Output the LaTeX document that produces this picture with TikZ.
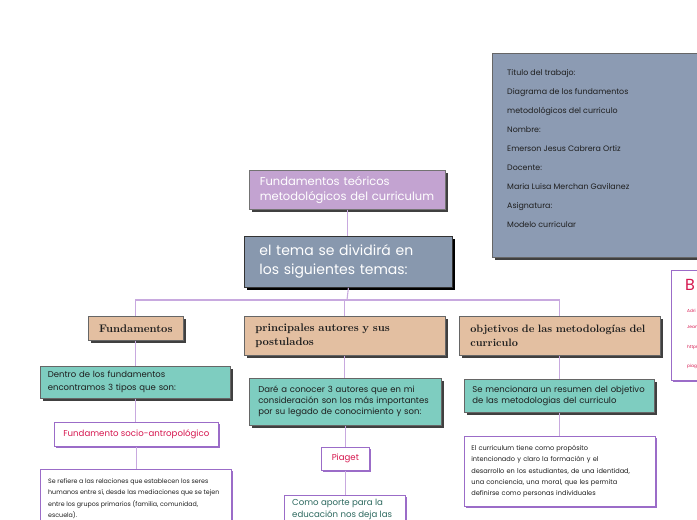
\documentclass[tikz,border=0pt]{standalone}
\usepackage{fontspec}
\setmainfont{Poppins}
\newfontfamily\serifbold{Latin Modern Roman}
\usetikzlibrary{shadows}
\definecolor{slate}{HTML}{8C9BB3}
\definecolor{slatemain}{HTML}{8898AE}
\definecolor{lav}{HTML}{C3A3D1}
\definecolor{tan}{HTML}{E3BFA1}
\definecolor{teal}{HTML}{7ECDC0}
\definecolor{conn}{HTML}{C8A9DF}
\definecolor{redt}{HTML}{D6174F}
\definecolor{purp}{HTML}{9B6CC8}
\definecolor{darkteal}{HTML}{2E6A60}
\definecolor{txt}{HTML}{1E1E1E}
\tikzset{
  bx/.style={rectangle, anchor=north west, inner sep=0pt, align=left},
  dshadow/.style={drop shadow={shadow xshift=2.5pt, shadow yshift=-2.5pt, fill=black!75, opacity=1}},
  pshadow/.style={drop shadow={shadow xshift=2pt, shadow yshift=-2pt, fill=purp, opacity=1}},
  titlebox/.style={bx, fill=lav, draw=black!55, line width=0.6pt, dshadow, text=white},
  mainbox/.style={bx, fill=slatemain, draw=black!80, line width=0.8pt, drop shadow={shadow xshift=3pt, shadow yshift=-3pt, fill=black, opacity=1}, text=white},
  infobox/.style={bx, fill=slate, draw=black!60, line width=0.6pt, dshadow},
  tanbox/.style={bx, fill=tan, draw=black!60, line width=0.6pt, dshadow, text=txt},
  tealbox/.style={bx, fill=teal, draw=black!60, line width=0.6pt, dshadow, text=txt},
  whitebox/.style={bx, fill=white, draw=purp, line width=0.7pt, pshadow},
  conline/.style={draw=conn, line width=1.1pt},
}
\begin{document}
\begin{tikzpicture}[x=1pt,y=-1pt]
\useasboundingbox (0,0) rectangle (697,520);
% info box
\node[infobox, minimum width=220, minimum height=204] (info) at (492,53) {};
\node[bx, text=txt, font=\fontsize{7.9}{19}\selectfont] (infotext) at (507,69) {Titulo del trabajo:\\Diagrama de los fundamentos\\metodológicos del curriculo\\Nombre:\\Emerson Jesus Cabrera Ortiz\\Docente:\\Maria Luisa Merchan Gavilanez\\Asignatura:\\Modelo curricular};
% B box
\node[whitebox, minimum width=40, minimum height=110] (bbox) at (671,270) {};
\node[bx, text=redt, font=\fontsize{16}{16}\selectfont] (bletter) at (685,279) {B};
\node[bx, text=redt, font=\fontsize{4.3}{5}\selectfont] (b1) at (687,309) {Adri};
\node[bx, text=redt, font=\fontsize{4.3}{5}\selectfont] (b2) at (687,325) {Jean};
\node[bx, text=redt, font=\fontsize{4.3}{5}\selectfont] (b3) at (687,345) {https};
\node[bx, text=redt, font=\fontsize{4.3}{5}\selectfont] (b4) at (687,364) {piag};
% title
\node[titlebox, minimum width=196, minimum height=39, text width=175, inner xsep=10.5, font=\fontsize{11.5}{14.5}\selectfont] (title) at (249,170) {Fundamentos teóricos\\metodológicos del curriculum};
% main
\node[mainbox, minimum width=207, minimum height=51, text width=178, inner xsep=15, font=\fontsize{14}{19}\selectfont] (main) at (244,236) {el tema se dividirá en\\los siguientes temas:};
% level 2
\node[tanbox, minimum width=95, minimum height=24, align=center, font=\serifbold\bfseries\fontsize{11}{12}\selectfont] (fund) at (88,316) {Fundamentos};
\node[tanbox, minimum width=201, minimum height=39, text width=179, inner xsep=11, font=\serifbold\bfseries\fontsize{11}{14}\selectfont] (prin) at (244,316) {principales autores y sus\\postulados};
\node[tanbox, minimum width=201, minimum height=39, text width=179, inner xsep=11, font=\serifbold\bfseries\fontsize{10.7}{14}\selectfont] (obj) at (459,316) {objetivos de las metodologías del\\curriculo};
% level 3
\node[tealbox, minimum width=190, minimum height=32, text width=175, inner xsep=7.5, font=\fontsize{8.5}{13}\selectfont] (dentro) at (40,366) {Dentro de los fundamentos\\encontramos 3 tipos que son:};
\node[tealbox, minimum width=192, minimum height=47, text width=174, inner xsep=9, font=\fontsize{8.5}{11}\selectfont] (dare) at (249,378) {Daré a conocer 3 autores que en mi\\consideración son los más importantes\\por su legado de conocimiento y son:};
\node[tealbox, minimum width=190, minimum height=33, text width=174, inner xsep=8, font=\fontsize{8.5}{11.5}\selectfont] (semen) at (464,379) {Se mencionara un resumen del objetivo\\de las metodologias del curriculo};
% level 4
\node[whitebox, minimum width=164, minimum height=24, align=center, text=redt, font=\fontsize{8.6}{10}\selectfont] (socio) at (54,422) {Fundamento socio-antropológico};
\node[whitebox, minimum width=48, minimum height=23, align=center, text=redt, font=\fontsize{8.6}{10}\selectfont] (piaget) at (321,447) {Piaget};
\node[whitebox, minimum width=191, minimum height=70, text width=177, inner xsep=7, text=txt, font=\fontsize{6.6}{11.3}\selectfont] (curr) at (464,436) {El curriculum tiene como propósito\\intencionado y claro la formación y el\\desarrollo en los estudiantes, de una identidad,\\una conciencia, una moral, que les permita\\definirse como personas individuales};
% level 5
\node[whitebox, minimum width=191, minimum height=75] (refbox) at (40,469) {};
\node[bx, text=txt, font=\fontsize{6.3}{11.5}\selectfont] (reftext) at (48,478) {Se refiere a las relaciones que establecen los seres\\humanos entre sí, desde las mediaciones que se tejen\\entre los grupos primarios (familia, comunidad,\\escuela).};
\node[whitebox, minimum width=121, minimum height=50] (comobox) at (284,495) {};
\node[bx, text=darkteal, font=\fontsize{8.6}{11.5}\selectfont] (comotext) at (292,499) {Como aporte para la\\educación nos deja las};
% connectors
\coordinate (j) at (347,300);
\draw[conline] (title.south) -- (title.south |- main.north);
\draw[conline] (main.south) -- (j);
\draw[conline] (j) -| (fund.north);
\draw[conline] (j) -| (prin.north);
\draw[conline] (j) -| (obj.north);
\draw[conline] (fund.south) -- (fund.south |- dentro.north);
\draw[conline] (dentro.south) -- (dentro.south |- socio.north);
\draw[conline] (socio.south) -- (socio.south |- refbox.north);
\draw[conline] (prin.south) -- (prin.south |- dare.north);
\draw[conline] (dare.south) -- (dare.south |- piaget.north);
\draw[conline] (piaget.south) -- (piaget.south |- comobox.north);
\draw[conline] (obj.south) -- (obj.south |- semen.north);
\draw[conline] (semen.south) -- (semen.south |- curr.north);
\end{tikzpicture}
\end{document}
